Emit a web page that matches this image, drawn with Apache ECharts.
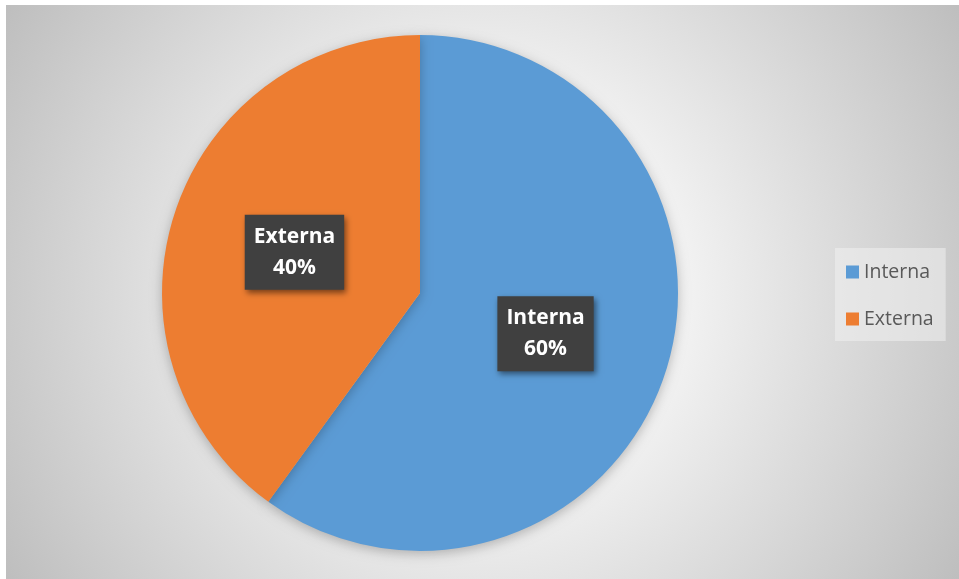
<!DOCTYPE html>
<html>
<head>
<meta charset="utf-8">
<style>
  html, body { margin: 0; padding: 0; background: #ffffff; }
  #chart { width: 959px; height: 579px; }
</style>
<script src="https://cdn.jsdelivr.net/npm/echarts@6/dist/echarts.min.js"></script>
</head>
<body>
<div id="chart"></div>
<script>
// Share of origin: internal vs external
const categories = ['Interna', 'Externa'];
const shares = [60, 40];
const colors = ['#5B9BD5', '#ED7D31'];

const chart = echarts.init(document.getElementById('chart'), null, { renderer: 'canvas' });

const pieData = categories.map((name, i) => ({
  name: name,
  value: shares[i],
  itemStyle: { color: colors[i] }
}));

chart.setOption({
  animation: false,
  graphic: [{
    type: 'rect',
    z: -10,
    silent: true,
    shape: { x: 6, y: 5, width: 953, height: 574 },
    style: {
      fill: {
        type: 'radial', x: 0.5, y: 0.5, r: 0.98,
        colorStops: [
          { offset: 0, color: '#ffffff' },
          { offset: 0.25, color: '#fbfbfb' },
          { offset: 1, color: '#bdbdbd' }
        ]
      }
    }
  }],
  legend: {
    orient: 'vertical',
    left: 835,
    top: 248,
    padding: [14, 12, 12, 11],
    backgroundColor: 'rgba(240,240,240,0.55)',
    itemWidth: 13,
    itemHeight: 13,
    itemGap: 27,
    icon: 'rect',
    textStyle: {
      fontFamily: '"Open Sans", sans-serif',
      fontSize: 19.5,
      color: '#595959'
    },
    data: categories
  },
  series: [{
    type: 'pie',
    center: [420, 293],
    radius: [0, 258],
    startAngle: 90,
    clockwise: true,
    data: pieData,
    itemStyle: {
      shadowBlur: 12,
      shadowColor: 'rgba(0,0,0,0.25)',
      shadowOffsetY: 3
    },
    emphasis: { disabled: true },
    label: {
      show: true,
      position: 'inside',
      formatter: '{b}\n{d}%',
      fontFamily: '"Open Sans", sans-serif',
      fontWeight: 'bold',
      fontSize: 21,
      lineHeight: 31,
      color: '#ffffff',
      backgroundColor: '#404040',
      padding: [7, 9, 6, 9],
      shadowBlur: 6,
      shadowColor: 'rgba(0,0,0,0.5)',
      shadowOffsetX: 2,
      shadowOffsetY: 3
    },
    labelLine: { show: false }
  }]
});
</script>
</body>
</html>
